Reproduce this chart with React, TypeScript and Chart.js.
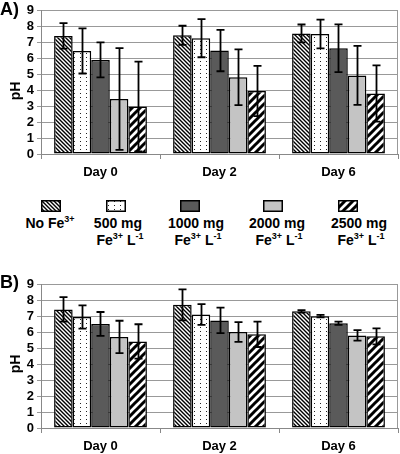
import React, { useEffect, useRef } from 'react';
import { Chart, registerables } from 'chart.js';

Chart.register(...registerables);

const days = ['Day 0', 'Day 2', 'Day 6'];
const yTicks = [0, 1, 2, 3, 4, 5, 6, 7, 8, 9];

// Panel A values and symmetric errors
const aNoFe = [7.42, 7.46, 7.58];
const aNoFeErr = [0.8, 0.6, 0.56];
const a500 = [6.48, 7.28, 7.54];
const a500Err = [1.42, 1.2, 0.9];
const a1000 = [5.91, 6.5, 6.65];
const a1000Err = [1.1, 1.3, 1.5];
const a2000 = [3.46, 4.82, 4.94];
const a2000Err = [3.2, 1.75, 1.85];
const a2500 = [2.99, 3.96, 3.8];
const a2500Err = [2.82, 1.58, 1.77];

// Panel B values and symmetric errors
const bNoFe = [7.45, 7.74, 7.33];
const bNoFeErr = [0.77, 0.97, 0.08];
const b500 = [6.98, 7.13, 7.03];
const b500Err = [0.73, 0.65, 0.08];
const b1000 = [6.54, 6.76, 6.58];
const b1000Err = [0.75, 0.8, 0.1];
const b2000 = [5.72, 6.03, 5.82];
const b2000Err = [1.02, 0.62, 0.33];
const b2500 = [5.44, 5.89, 5.76];
const b2500Err = [1.08, 0.8, 0.5];

const patternKinds = ['back', 'dots', 'dark', 'light', 'fwd'];

const FONT = '"Liberation Sans", Arial, Helvetica, sans-serif';

function drawTile(kind: string): HTMLCanvasElement | string {
  const c = document.createElement('canvas');
  const g = c.getContext('2d')!;
  if (kind === 'dark') return '#5a5a5a';
  if (kind === 'light') return '#c4c4c4';
  if (kind === 'back') {
    c.width = 4; c.height = 4;
    g.fillStyle = '#fff'; g.fillRect(0, 0, 4, 4);
    g.strokeStyle = '#000'; g.lineWidth = 1.4;
    g.beginPath();
    g.moveTo(-1, -1); g.lineTo(5, 5);
    g.moveTo(-1, 3); g.lineTo(1, 5);
    g.moveTo(3, -1); g.lineTo(5, 1);
    g.stroke();
  } else if (kind === 'fwd') {
    c.width = 8; c.height = 8;
    g.fillStyle = '#fff'; g.fillRect(0, 0, 8, 8);
    g.strokeStyle = '#000'; g.lineWidth = 3;
    g.beginPath();
    g.moveTo(-1, 9); g.lineTo(9, -1);
    g.moveTo(-5, 5); g.lineTo(5, -5);
    g.moveTo(3, 13); g.lineTo(13, 3);
    g.stroke();
  } else if (kind === 'dots') {
    c.width = 6; c.height = 4;
    g.fillStyle = '#fff'; g.fillRect(0, 0, 6, 4);
    g.fillStyle = '#222'; g.fillRect(2, 1, 1, 1);
  }
  return c;
}

function makeFill(ctx: CanvasRenderingContext2D, kind: string): any {
  const t = drawTile(kind);
  if (typeof t === 'string') return t;
  return ctx.createPattern(t, 'repeat');
}

const errorBarPlugin = {
  id: 'errbars',
  afterDatasetsDraw(chart: any) {
    const ctx = chart.ctx;
    const ys = chart.scales.y;
    ctx.save();
    ctx.strokeStyle = '#000';
    ctx.lineWidth = 1.8;
    chart.data.datasets.forEach((ds: any, di: number) => {
      const meta = chart.getDatasetMeta(di);
      meta.data.forEach((bar: any, i: number) => {
        const v = ds.data[i];
        const e = ds.errors[i];
        const x = Math.round(bar.x) + 0.5;
        const yt = ys.getPixelForValue(v + e);
        const yb = ys.getPixelForValue(Math.max(0, v - e));
        ctx.beginPath();
        ctx.moveTo(x, yt); ctx.lineTo(x, yb);
        ctx.moveTo(x - 4, yt); ctx.lineTo(x + 4, yt);
        ctx.moveTo(x - 4, yb); ctx.lineTo(x + 4, yb);
        ctx.stroke();
      });
    });
    ctx.restore();
  },
};

const frameRightPlugin = {
  id: 'frameRight',
  beforeDatasetsDraw(chart: any) {
    const { ctx, chartArea } = chart;
    ctx.save();
    ctx.strokeStyle = '#999';
    ctx.lineWidth = 1;
    ctx.beginPath();
    ctx.moveTo(Math.round(chartArea.right) - 0.5, chartArea.top);
    ctx.lineTo(Math.round(chartArea.right) - 0.5, chartArea.bottom);
    ctx.stroke();
    ctx.restore();
  },
};

function Panel({ values, errors }: { values: number[][]; errors: number[][] }) {
  const ref = useRef<HTMLCanvasElement>(null);
  useEffect(() => {
    const canvas = ref.current!;
    const ctx = canvas.getContext('2d')!;
    const tickFont = { family: FONT, size: 13, weight: 'bold' as const };
    const chart = new Chart(canvas, {
      type: 'bar',
      data: {
        labels: days,
        datasets: values.map((vals, k) => ({
          data: vals,
          errors: errors[k],
          backgroundColor: makeFill(ctx, patternKinds[k]),
          borderColor: '#000',
          borderWidth: 1.5,
          borderSkipped: false,
          categoryPercentage: 0.78,
          barPercentage: 1,
        })) as any,
      },
      options: {
        animation: false,
        responsive: false,
        maintainAspectRatio: false,
        layout: { padding: { top: 7, right: 2, left: 0, bottom: 0 } },
        plugins: { legend: { display: false }, tooltip: { enabled: false } },
        scales: {
          x: {
            grid: { display: true, drawOnChartArea: false, drawTicks: true, tickLength: 5, offset: true, color: '#888' },
            border: { color: '#888', width: 1 },
            ticks: { font: tickFont, color: '#000', padding: 6, maxRotation: 0 },
            afterFit: (s: any) => { s.height = 26; },
          },
          y: {
            min: 0,
            max: 9,
            afterBuildTicks: (s: any) => { s.ticks = yTicks.map((v) => ({ value: v })); },
            ticks: { font: tickFont, color: '#000', padding: 3, autoSkip: false },
            grid: { color: '#999', tickLength: 4 },
            border: { color: '#888', width: 1 },
            afterFit: (s: any) => { s.width = 41; },
          },
        },
      } as any,
      plugins: [frameRightPlugin, errorBarPlugin],
    });
    return () => chart.destroy();
  }, []);
  return <canvas ref={ref} width={400} height={180} style={{ display: 'block' }} />;
}

function Swatch({ kind }: { kind: string }) {
  const ref = useRef<HTMLCanvasElement>(null);
  useEffect(() => {
    const c = ref.current!;
    const g = c.getContext('2d')!;
    g.fillStyle = makeFill(g, kind);
    g.fillRect(0, 0, c.width, c.height);
    g.strokeStyle = '#000';
    g.lineWidth = 1.5;
    g.strokeRect(0.75, 0.75, c.width - 1.5, c.height - 1.5);
  }, [kind]);
  return <canvas ref={ref} width={20} height={12} style={{ display: 'block' }} />;
}

const legendSwatchX = [41, 106, 180, 263, 338];
const legendTextX = [50, 118, 196, 277, 359];
const legendLine1 = ['No Fe', '500 mg', '1000 mg', '2000 mg', '2500 mg'];

const sup: React.CSSProperties = { fontSize: 9, verticalAlign: 6, lineHeight: 0 };

function LegendText({ i }: { i: number }) {
  if (i === 0) {
    return (
      <div>
        No Fe<span style={sup}>3+</span>
      </div>
    );
  }
  return (
    <>
      <div>{legendLine1[i]}</div>
      <div style={{ paddingLeft: 4 }}>
        Fe<span style={sup}>3+</span> L<span style={sup}>-1</span>
      </div>
    </>
  );
}

export default function App() {
  const label: React.CSSProperties = {
    position: 'absolute', left: 0, fontFamily: FONT, fontWeight: 'bold', fontSize: 18, lineHeight: '18px',
  };
  const pH: React.CSSProperties = {
    position: 'absolute', fontFamily: FONT, fontWeight: 'bold', fontSize: 14, lineHeight: '14px',
    width: 30, textAlign: 'center', transform: 'rotate(-90deg)',
  };
  return (
    <div style={{ position: 'absolute', left: 0, top: 0, width: 400, height: 454, background: '#fff', overflow: 'hidden' }}>
      <div style={{ position: 'absolute', left: 0, top: 0 }}>
        <Panel values={[aNoFe, a500, a1000, a2000, a2500]} errors={[aNoFeErr, a500Err, a1000Err, a2000Err, a2500Err]} />
      </div>
      <div style={{ position: 'absolute', left: 0, top: 274 }}>
        <Panel values={[bNoFe, b500, b1000, b2000, b2500]} errors={[bNoFeErr, b500Err, b1000Err, b2000Err, b2500Err]} />
      </div>
      <div style={{ ...label, top: 0 }}>A)</div>
      <div style={{ ...label, top: 273 }}>B)</div>
      <div style={{ ...pH, left: 0, top: 84 }}>pH</div>
      <div style={{ ...pH, left: 0, top: 357 }}>pH</div>
      {patternKinds.map((k, i) => (
        <div key={'s' + i} style={{ position: 'absolute', left: legendSwatchX[i], top: 200 }}>
          <Swatch kind={k} />
        </div>
      ))}
      {patternKinds.map((k, i) => (
        <div
          key={'t' + i}
          style={{
            position: 'absolute', left: legendTextX[i], top: 215, transform: 'translateX(-50%)',
            fontFamily: FONT, fontWeight: 'bold', fontSize: 14, lineHeight: '17px', textAlign: 'center', whiteSpace: 'nowrap',
          }}
        >
          <LegendText i={i} />
        </div>
      ))}
    </div>
  );
}
